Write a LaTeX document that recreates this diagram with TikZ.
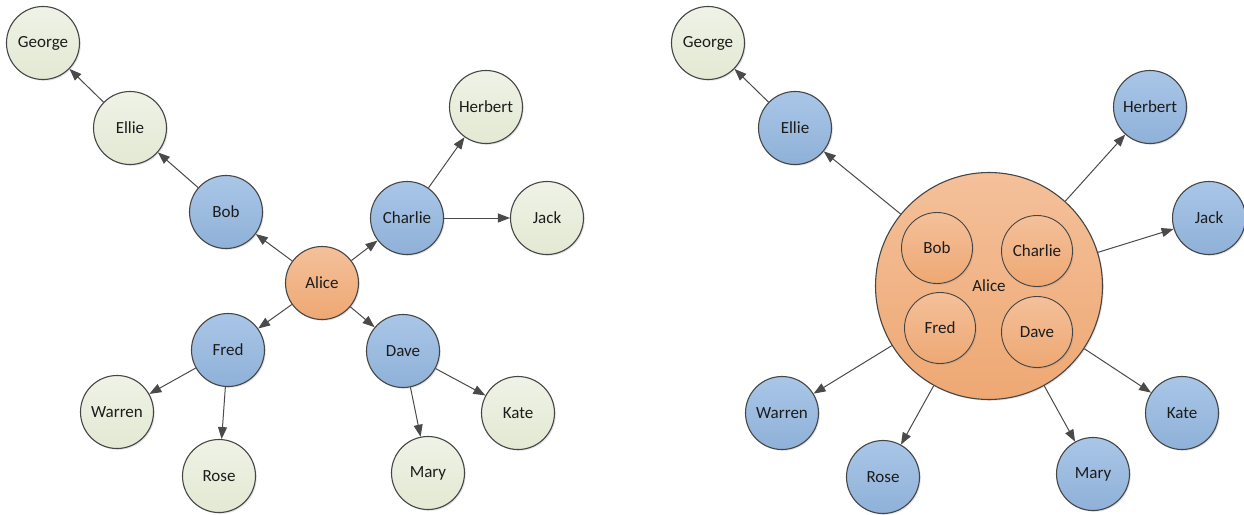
\documentclass[tikz,border=0pt]{standalone}
\usepackage{fontspec}
\setmainfont{Carlito}
\usetikzlibrary{arrows.meta,shadows}
\definecolor{blueTop}{HTML}{A9C6E7}
\definecolor{blueBot}{HTML}{8FB1D8}
\definecolor{greenTop}{HTML}{EFF2E6}
\definecolor{greenBot}{HTML}{E3E9D3}
\definecolor{orangeTop}{HTML}{F4C09A}
\definecolor{orangeBot}{HTML}{EEA873}
\definecolor{rim}{HTML}{454545}
\definecolor{wire}{HTML}{4A4A4A}
\definecolor{label}{HTML}{1C1C1C}
\begin{document}
\begin{tikzpicture}[x=1pt,y=-1pt,
  person/.style={circle, draw=rim, line width=1.1pt, minimum size=73pt, inner sep=0pt,
    font=\fontsize{17}{20}\selectfont, text=label,
    drop shadow={opacity=0.22, shadow xshift=1.3pt, shadow yshift=-1.3pt}},
  bluenode/.style={person, top color=blueTop, bottom color=blueBot},
  greennode/.style={person, top color=greenTop, bottom color=greenBot},
  orangenode/.style={person, top color=orangeTop, bottom color=orangeBot},
  bignode/.style={orangenode, minimum size=227pt},
  innernode/.style={orangenode, minimum size=71pt, line width=0.9pt},
  link/.style={draw=wire, line width=1pt, -{Triangle[length=12pt,width=9pt]}}
]
\useasboundingbox (0,0) rectangle (1244,514);

% ---- flat hierarchy ----
\node[orangenode] (lAlice)   at (322,283) {Alice};
\node[bluenode]   (lBob)     at (226,212) {Bob};
\node[bluenode]   (lCharlie) at (407,218) {Charlie};
\node[bluenode]   (lFred)    at (228,350) {Fred};
\node[bluenode]   (lDave)    at (403,351) {Dave};
\node[greennode]  (lEllie)   at (130,128) {Ellie};
\node[greennode]  (lGeorge)  at (43,43)   {George};
\node[greennode]  (lHerbert) at (486,107) {Herbert};
\node[greennode]  (lJack)    at (547,218) {Jack};
\node[greennode]  (lWarren)  at (117,412) {Warren};
\node[greennode]  (lRose)    at (219,476) {Rose};
\node[greennode]  (lMary)    at (428,473) {Mary};
\node[greennode]  (lKate)    at (518,413) {Kate};

\draw[link] (lAlice) -- (lBob);
\draw[link] (lAlice) -- (lCharlie);
\draw[link] (lAlice) -- (lFred);
\draw[link] (lAlice) -- (lDave);
\draw[link] (lBob) -- (lEllie);
\draw[link] (lEllie) -- (lGeorge);
\draw[link] (lCharlie) -- (lHerbert);
\draw[link] (lCharlie) -- (lJack);
\draw[link] (lFred) -- (lWarren);
\draw[link] (lFred) -- (lRose);
\draw[link] (lDave) -- (lMary);
\draw[link] (lDave) -- (lKate);

% ---- grouped hierarchy ----
\node[bignode]   (rAlice)   at (989,286) {Alice};
\node[innernode] (rBob)     at (937,248) {Bob};
\node[innernode] (rCharlie) at (1037,251) {Charlie};
\node[innernode] (rFred)    at (940,328) {Fred};
\node[innernode] (rDave)    at (1037,332) {Dave};
\node[bluenode]  (rEllie)   at (795,128) {Ellie};
\node[greennode] (rGeorge)  at (708,43)  {George};
\node[bluenode]  (rHerbert) at (1150,107) {Herbert};
\node[bluenode]  (rJack)    at (1209,218) {Jack};
\node[bluenode]  (rWarren)  at (782,413) {Warren};
\node[bluenode]  (rRose)    at (883,477) {Rose};
\node[bluenode]  (rMary)    at (1093,474) {Mary};
\node[bluenode]  (rKate)    at (1182,413) {Kate};

\draw[link] (rEllie) -- (rGeorge);
\draw[link] (rAlice) -- (rEllie);
\draw[link] (rAlice) -- (rHerbert);
\draw[link] (rAlice) -- (rJack);
\draw[link] (rAlice) -- (rWarren);
\draw[link] (rAlice) -- (rRose);
\draw[link] (rAlice) -- (rMary);
\draw[link] (rAlice) -- (rKate);
\end{tikzpicture}
\end{document}
